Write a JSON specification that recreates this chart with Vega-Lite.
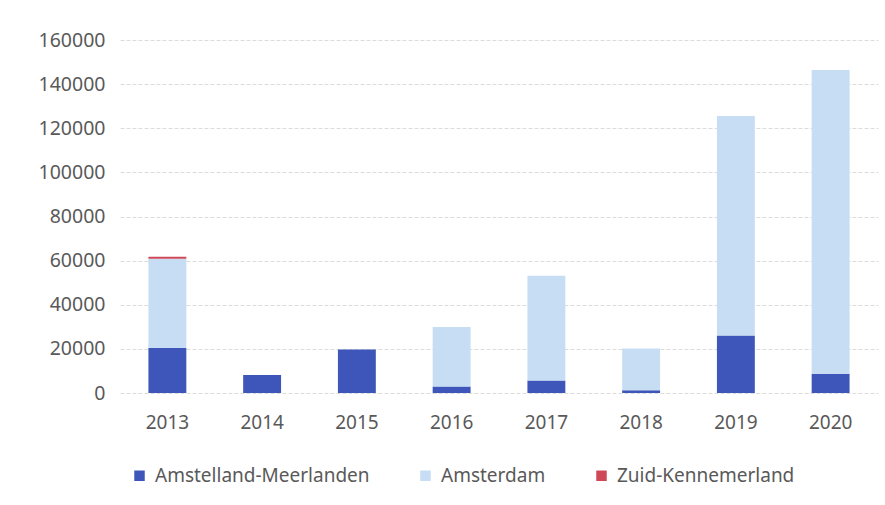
{
  "$schema": "https://vega.github.io/schema/vega-lite/v6.json",
  "width": 758,
  "height": 353,
  "autosize": {"type": "none"},
  "padding": {"left": 120, "top": 40, "right": 7, "bottom": 112},
  "background": "#ffffff",
  "data": {
    "values": [
      {"year": "2013", "region": "Amstelland-Meerlanden", "value": 20400},
      {"year": "2013", "region": "Amsterdam", "value": 40400},
      {"year": "2013", "region": "Zuid-Kennemerland", "value": 1000},
      {"year": "2014", "region": "Amstelland-Meerlanden", "value": 8200},
      {"year": "2015", "region": "Amstelland-Meerlanden", "value": 19700},
      {"year": "2016", "region": "Amstelland-Meerlanden", "value": 3000},
      {"year": "2016", "region": "Amsterdam", "value": 26900},
      {"year": "2017", "region": "Amstelland-Meerlanden", "value": 5700},
      {"year": "2017", "region": "Amsterdam", "value": 47400},
      {"year": "2018", "region": "Amstelland-Meerlanden", "value": 1200},
      {"year": "2018", "region": "Amsterdam", "value": 19000},
      {"year": "2019", "region": "Amstelland-Meerlanden", "value": 26100},
      {"year": "2019", "region": "Amsterdam", "value": 99500},
      {"year": "2020", "region": "Amstelland-Meerlanden", "value": 8700},
      {"year": "2020", "region": "Amsterdam", "value": 137700}
    ]
  },
  "mark": {"type": "bar"},
  "encoding": {
    "x": {
      "field": "year",
      "type": "ordinal",
      "scale": {"paddingInner": 0.6, "paddingOuter": 0.3},
      "axis": {
        "title": null,
        "labelAngle": 0,
        "labelFont": "Noto Sans",
        "labelFontSize": 19,
        "labelColor": "#595959",
        "labelPadding": 20,
        "domain": false,
        "ticks": false
      }
    },
    "y": {
      "field": "value",
      "type": "quantitative",
      "stack": "zero",
      "scale": {"domain": [0, 160000], "nice": false},
      "axis": {
        "title": null,
        "values": [0, 20000, 40000, 60000, 80000, 100000, 120000, 140000, 160000],
        "format": "d",
        "labelFont": "Noto Sans",
        "labelFontSize": 19.5,
        "labelColor": "#595959",
        "labelPadding": 15,
        "domain": false,
        "ticks": false,
        "gridColor": "#dcdcdc",
        "gridDash": [4, 2],
        "gridWidth": 1
      }
    },
    "color": {
      "field": "region",
      "type": "nominal",
      "scale": {
        "domain": ["Amstelland-Meerlanden", "Amsterdam", "Zuid-Kennemerland"],
        "range": ["#3e56b9", "#c6ddf3", "#cf4858"]
      },
      "legend": {
        "title": null,
        "orient": "none",
        "legendX": 10,
        "legendY": 426,
        "direction": "horizontal",
        "symbolType": "square",
        "symbolSize": 110,
        "symbolStrokeWidth": 0,
        "labelFont": "Noto Sans",
        "labelFontSize": 19,
        "labelColor": "#595959",
        "labelLimit": 400,
        "labelOffset": 6,
        "columnPadding": 46
      }
    },
    "order": {"field": "region", "sort": "ascending"}
  },
  "config": {"view": {"stroke": null}}
}
